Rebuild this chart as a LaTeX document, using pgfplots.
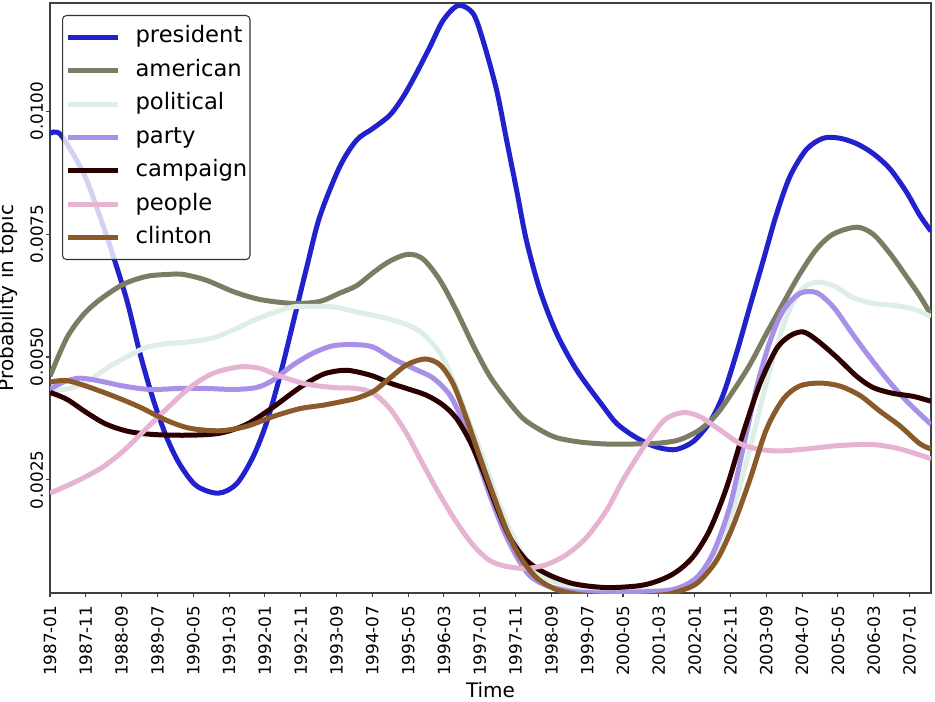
\documentclass[border=0pt]{standalone}
\usepackage{fontspec}
\setmainfont{DejaVu Sans}
\usepackage{pgfplots}
\pgfplotsset{compat=1.18}
\definecolor{cpres}{RGB}{34,34,204}
\definecolor{camer}{RGB}{124,124,100}
\definecolor{cpoli}{RGB}{221,238,230}
\definecolor{cpart}{RGB}{168,144,232}
\definecolor{ccamp}{RGB}{45,0,0}
\definecolor{cpeop}{RGB}{230,180,210}
\definecolor{cclin}{RGB}{139,90,43}
\begin{document}
\begin{tikzpicture}
\begin{axis}[
  scale only axis, width=660.75pt, height=442.5pt,
  xmin=0, xmax=246, ymin=0.0002, ymax=0.0122,
  axis line style={black!75, line width=0.8pt},
  tick align=outside, tick pos=left, major tick length=2.8pt,
  tick style={black!75, line width=0.8pt},
  scaled y ticks=false,
  xtick={0,10,...,240},
  xticklabels={1987-01,1987-11,1988-09,1989-07,1990-05,1991-03,1992-01,1992-11,1993-09,1994-07,1995-05,1996-03,1997-01,1997-11,1998-09,1999-07,2000-05,2001-03,2002-01,2002-11,2003-09,2004-07,2005-05,2006-03,2007-01},
  xticklabel style={rotate=90, anchor=east, inner sep=0pt, font=\fontsize{12.6}{14}\selectfont},
  xticklabel shift=6.5pt,
  ytick={0.0025,0.005,0.0075,0.01},
  yticklabels={0.0025,0.0050,0.0075,0.0100},
  yticklabel style={rotate=90, anchor=base, inner sep=0pt, font=\fontsize{12.6}{14}\selectfont},
  yticklabel shift=2.5pt,
  xlabel={Time}, ylabel={Probability in topic},
  xlabel style={at={(axis description cs:0.5,-0.1763)}, anchor=base, font=\fontsize{15}{18}\selectfont},
  ylabel style={at={(axis description cs:-0.0409,0.5)}, anchor=base, font=\fontsize{15}{18}\selectfont},
  legend style={at={(axis description cs:0.01362,0.9797)}, anchor=north west,
    draw=black!80, line width=0.8pt, rounded corners=3pt,
    fill=white, fill opacity=0.8, draw opacity=1, text opacity=1,
    font=\fontsize{17}{20}\selectfont,
    inner xsep=2pt, inner ysep=8pt, row sep=8.7pt, column sep=11.5pt,
    nodes={inner sep=0pt, text height=12.6pt, text depth=3.8pt}},
  legend cell align=left,
  legend image code/.code={\draw[#1, line width=3.75pt] (0pt,0pt) -- (37.5pt,0pt);},
  every axis plot/.append style={line width=3.75pt, smooth},
]
\addplot[cpres] coordinates {
(0,0.00955) (3,0.00952) (9.3,0.00875) (13,0.00805) (16.7,0.00727) (21.4,0.00617)
(25.1,0.00508) (28.8,0.00414) (32.6,0.00336) (36.3,0.00281) (40.9,0.00238) (47,0.00223)
(52.1,0.00242) (56.7,0.00297) (60.5,0.00367) (64.2,0.00461) (67.9,0.0057) (71.6,0.0068)
(75.3,0.00785) (80.9,0.00887) (85.6,0.00941) (90.2,0.00965) (94.9,0.00992)
(98.6,0.01029) (102.3,0.01077) (106.1,0.01131) (109.8,0.01185) (114,0.01215) (118.1,0.01199)
(120.9,0.01144) (124.7,0.01043) (127.5,0.00941) (130.3,0.00839) (133,0.00738) (136.8,0.00636)
(141.4,0.00549) (147,0.00474) (154.4,0.004) (158.2,0.00365) (162.8,0.0034) (167.5,0.00322)
(171,0.00314) (174.9,0.00312) (179.6,0.00328) (184.2,0.00367) (187.9,0.00422) (191.7,0.00508)
(195.4,0.00602) (199.1,0.00695) (202.8,0.00789) (206.6,0.00867) (211.2,0.00922) (215.9,0.00945)
(220.5,0.00945) (225.2,0.00934) (229.8,0.00914) (234.5,0.00883) (239.1,0.00836) (242.8,0.00789)
(246,0.00756)};
\addlegendentry{president}
\addplot[camer] coordinates {
(0,0.00461) (4.7,0.00539) (9.3,0.00586) (14,0.00617) (20.5,0.00648) (27,0.00664)
(33,0.00668) (37.2,0.00668) (43.7,0.00656) (51.2,0.00633) (58.6,0.00617) (67.9,0.00609)
(75.3,0.00613) (80.9,0.0063) (85.6,0.00645) (90.3,0.00672) (94.9,0.00695) (100,0.00709)
(104.2,0.00699) (108.9,0.00656) (113.5,0.00594) (118.2,0.00523) (122.8,0.00461) (127.5,0.00414)
(132.1,0.00375) (136.8,0.00352) (141.4,0.00336) (148,0.00327) (155.4,0.00323) (162.8,0.00323)
(170.3,0.00325) (175.9,0.00332) (181.4,0.00352) (186.1,0.00383) (190.7,0.0043) (195.4,0.00484)
(200,0.00547) (204.7,0.00609) (209.3,0.00668) (214,0.00719) (218.7,0.0075) (225.2,0.00764)
(229.8,0.0075) (234.5,0.00711) (239.1,0.00664) (242.8,0.00625) (246,0.00586)};
\addlegendentry{american}
\addplot[cpoli] coordinates {
(0,0.0043) (6.5,0.00438) (11.2,0.00453) (15.8,0.00477) (21.4,0.005) (27,0.0052)
(32.6,0.00527) (39.1,0.00531) (45.6,0.00539) (51.2,0.00555) (56.7,0.00574) (62.3,0.0059)
(67.9,0.00602) (73.5,0.00603) (79.1,0.00602) (86.6,0.0059) (92.1,0.00582) (99.6,0.00566)
(104.2,0.00547) (108.9,0.00508) (112.6,0.00453) (116.3,0.00383) (120,0.00313) (123.8,0.00234)
(127.5,0.00164) (131.2,0.00109) (134.9,0.0007) (139.6,0.00047) (146.1,0.00031) (155.4,0.00023)
(164,0.00024) (174,0.00027) (180.5,0.00043) (186.1,0.00102) (190.7,0.00188) (195.4,0.00313)
(200,0.00445) (204.7,0.00563) (209.3,0.00633) (214,0.00652) (218.7,0.00645) (224.2,0.00621)
(229.8,0.00609) (235.4,0.00605) (241,0.00598) (246,0.00582)};
\addlegendentry{political}
\addplot[cpart] coordinates {
(0,0.00434) (3.7,0.00449) (8.4,0.00457) (14,0.00451) (20.5,0.00441) (27.9,0.00434)
(36.3,0.00436) (43.7,0.00436) (51.2,0.00434) (57.7,0.00438) (62.3,0.00453) (67.9,0.00484)
(73.5,0.00508) (79.1,0.00523) (85.6,0.00525) (90.3,0.0052) (95.9,0.00496) (101.4,0.00477)
(107,0.00457) (111.7,0.00422) (115.4,0.00367) (119.1,0.00297) (122.8,0.00219) (126.6,0.00148)
(130.3,0.00094) (134,0.00055) (138.7,0.00035) (146.1,0.00023) (155.4,0.0002) (164,0.00022)
(174,0.00027) (180.5,0.00051) (185.2,0.00102) (189.8,0.00195) (193.5,0.00313) (197.3,0.00438)
(201,0.00531) (204.7,0.00594) (209.3,0.00629) (214,0.00631) (218.7,0.00602) (223.3,0.00555)
(228,0.00508) (233.5,0.00457) (239.1,0.00411) (246,0.00363)};
\addlegendentry{party}
\addplot[ccamp] coordinates {
(0,0.00428) (4.7,0.00414) (10.2,0.00387) (15.8,0.00363) (22.3,0.00348) (29.8,0.00342)
(39.1,0.00341) (47.4,0.00345) (54.9,0.00363) (62.3,0.00398) (69.8,0.00438) (76.3,0.00465)
(81.9,0.00473) (85.6,0.0047) (90.3,0.00461) (94.9,0.00447) (99.6,0.00436) (105.2,0.00422)
(109.8,0.00402) (113.5,0.00375) (117.3,0.00328) (121,0.00266) (124.7,0.00195) (128.4,0.00133)
(133.1,0.00086) (138.7,0.00059) (146.1,0.00039) (155.4,0.00031) (164.7,0.00035) (170.3,0.00046)
(174.9,0.00063) (179.6,0.00094) (184.2,0.00148) (188.9,0.00234) (193.5,0.00344) (198.2,0.00445)
(202.8,0.00516) (206.6,0.00543) (210.3,0.00551) (214,0.00535) (219.6,0.005) (225.2,0.00461)
(229.8,0.00438) (235.4,0.00426) (241,0.0042) (246,0.0041)};
\addlegendentry{campaign}
\addplot[cpeop] coordinates {
(0,0.00223) (4.7,0.00238) (9.3,0.00254) (14.9,0.00277) (20.5,0.00309) (26,0.00348)
(32.6,0.00395) (39.1,0.00438) (45.6,0.00467) (53,0.0048) (58.6,0.00477) (64.2,0.00461)
(71.6,0.00445) (79.1,0.00438) (85.6,0.00436) (90.3,0.00426) (94.9,0.00395) (99.6,0.00344)
(104.2,0.00281) (108.9,0.00219) (113.5,0.00164) (118.2,0.00117) (122.8,0.00086) (127.5,0.00074)
(133.1,0.0007) (138.7,0.00078) (144.2,0.00098) (149.8,0.00133) (155.4,0.00188) (160,0.0025)
(164.7,0.00305) (168.4,0.00344) (172.1,0.00375) (176.8,0.00387) (181.4,0.00379) (187,0.00352)
(192.6,0.00324) (198.2,0.00312) (203.8,0.00309) (211.2,0.00313) (220.5,0.0032) (229.8,0.00322)
(237.3,0.00313) (246,0.00293)};
\addlegendentry{people}
\addplot[cclin] coordinates {
(0,0.00449) (4.7,0.00452) (11.2,0.00438) (18.6,0.00418) (25.1,0.00398) (32.6,0.00371)
(39.1,0.00355) (47.4,0.0035) (54.9,0.00359) (62.3,0.00379) (69.8,0.00395) (76.3,0.00402)
(81.9,0.0041) (85.6,0.00416) (90.3,0.0043) (94.9,0.00457) (99.6,0.00484) (104.7,0.00496)
(108.9,0.00484) (112.6,0.00445) (116.3,0.00375) (120,0.00297) (123.8,0.00219) (127.5,0.00148)
(131.2,0.00094) (135.9,0.00051) (141.4,0.00027) (148.9,0.00016) (160,0.00012) (170.3,0.00016)
(174,0.0002) (180.5,0.00039) (186.1,0.00086) (190.7,0.00156) (195.4,0.0025) (200,0.00352)
(204.7,0.00414) (209.3,0.00441) (214.9,0.00447) (220.5,0.00441) (226.1,0.00422) (231.7,0.0039)
(237.3,0.0036) (242.8,0.00324) (246,0.00313)};
\addlegendentry{clinton}
\coordinate (sw) at (rel axis cs:0,0);
\end{axis}
\pgfresetboundingbox
\path[use as bounding box] (sw) ++(-37.5pt,-81pt) rectangle ++(701.25pt,525.75pt);
\end{tikzpicture}
\end{document}
